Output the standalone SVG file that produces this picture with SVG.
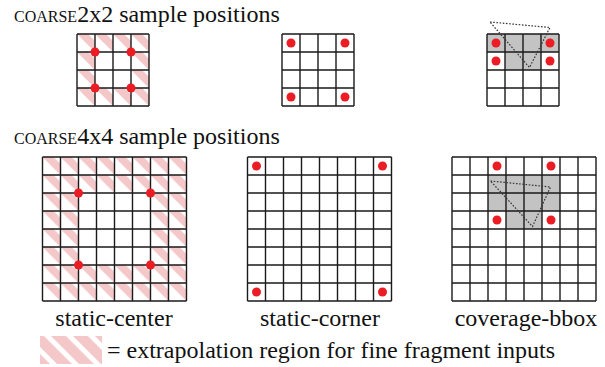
<svg xmlns="http://www.w3.org/2000/svg" width="605" height="367" viewBox="0 0 605 367">
<style>
.grid{fill:none;stroke:#1a1a1a;stroke-width:1.4}
.dot{fill:#ec1c24}
.gray{fill:#c3c3c3}
.tri{fill:none;stroke:#333;stroke-width:1.2;stroke-dasharray:1.6 1.6}
.t{font-family:'Liberation Serif','Times New Roman',serif;fill:#111;font-size:24px}
.sc{font-size:16px}
.lbl{text-anchor:middle}
</style>
<defs>
<pattern id="pA" patternUnits="userSpaceOnUse" x="77" y="34" width="18" height="18">
<polygon points="0,0 11,0 18,7 18,18" fill="#f4c7c9"/>
</pattern>
<pattern id="pB" patternUnits="userSpaceOnUse" x="42.5" y="157" width="18" height="18">
<polygon points="0,0 11,0 18,7 18,18" fill="#f4c7c9"/>
</pattern>
<pattern id="pL" patternUnits="userSpaceOnUse" width="15.5" height="15.5" patternTransform="rotate(-45)">
<rect x="0" y="0" width="10.5" height="15.5" fill="#f4c7c9"/>
</pattern>
</defs>

<g id="heading-2x2"><text class="t" x="14" y="22"><tspan class="sc">COARSE</tspan>2x2 sample positions</text></g>

<g id="c2-static-center">
<path d="M77,34h72v72h-72z M95,52v36h36v-36z" fill="url(#pA)"/>
<path class="grid" d="M77,34V106M95,34V106M113,34V106M131,34V106M149,34V106M77,34H149M77,52H149M77,70H149M77,88H149M77,106H149"/>
<circle class="dot" cx="95" cy="52" r="4.5"/><circle class="dot" cx="131" cy="52" r="4.5"/>
<circle class="dot" cx="95" cy="88" r="4.5"/><circle class="dot" cx="131" cy="88" r="4.5"/>
</g>

<g id="c2-static-corner">
<path class="grid" d="M282,34V106M300,34V106M318,34V106M336,34V106M354,34V106M282,34H354M282,52H354M282,70H354M282,88H354M282,106H354"/>
<circle class="dot" cx="291" cy="43" r="4.5"/><circle class="dot" cx="345" cy="43" r="4.5"/>
<circle class="dot" cx="291" cy="97" r="4.5"/><circle class="dot" cx="345" cy="97" r="4.5"/>
</g>

<g id="c2-coverage-bbox">
<rect class="gray" x="487" y="34" width="72" height="18"/>
<rect class="gray" x="505" y="52" width="36" height="18"/>
<path class="grid" d="M487,34V106M505,34V106M523,34V106M541,34V106M559,34V106M487,34H559M487,52H559M487,70H559M487,88H559M487,106H559"/>
<polygon class="tri" points="490,22 550,27.5 529.5,67.5"/>
<circle class="dot" cx="496" cy="43" r="4.5"/><circle class="dot" cx="550" cy="43" r="4.5"/>
<circle class="dot" cx="496" cy="61" r="4.5"/><circle class="dot" cx="550" cy="61" r="4.5"/>
</g>

<g id="heading-4x4"><text class="t" x="14" y="144"><tspan class="sc">COARSE</tspan>4x4 sample positions</text></g>

<g id="c4-static-center">
<path d="M42.5,157h144v144h-144z M78.5,193v72h72v-72z" fill="url(#pB)"/>
<path class="grid" d="M42.5,157V301M60.5,157V301M78.5,157V301M96.5,157V301M114.5,157V301M132.5,157V301M150.5,157V301M168.5,157V301M186.5,157V301M42.5,157H186.5M42.5,175H186.5M42.5,193H186.5M42.5,211H186.5M42.5,229H186.5M42.5,247H186.5M42.5,265H186.5M42.5,283H186.5M42.5,301H186.5"/>
<circle class="dot" cx="78.5" cy="193" r="4.5"/><circle class="dot" cx="150.5" cy="193" r="4.5"/>
<circle class="dot" cx="78.5" cy="265" r="4.5"/><circle class="dot" cx="150.5" cy="265" r="4.5"/>
<text class="t lbl" x="114" y="326">static-center</text>
</g>

<g id="c4-static-corner">
<path class="grid" d="M247.5,157V301M265.5,157V301M283.5,157V301M301.5,157V301M319.5,157V301M337.5,157V301M355.5,157V301M373.5,157V301M391.5,157V301M247.5,157H391.5M247.5,175H391.5M247.5,193H391.5M247.5,211H391.5M247.5,229H391.5M247.5,247H391.5M247.5,265H391.5M247.5,283H391.5M247.5,301H391.5"/>
<circle class="dot" cx="256.5" cy="166" r="4.5"/><circle class="dot" cx="382.5" cy="166" r="4.5"/>
<circle class="dot" cx="256.5" cy="292" r="4.5"/><circle class="dot" cx="382.5" cy="292" r="4.5"/>
<text class="t lbl" x="320" y="326">static-corner</text>
</g>

<g id="c4-coverage-bbox">
<rect class="gray" x="488" y="175" width="72" height="36"/>
<rect class="gray" x="506" y="211" width="36" height="18"/>
<path class="grid" d="M452,157V301M470,157V301M488,157V301M506,157V301M524,157V301M542,157V301M560,157V301M578,157V301M596,157V301M452,157H596M452,175H596M452,193H596M452,211H596M452,229H596M452,247H596M452,265H596M452,283H596M452,301H596"/>
<polygon class="tri" points="490.5,181 550.5,187 532.5,226.5"/>
<circle class="dot" cx="497" cy="166" r="4.5"/><circle class="dot" cx="551" cy="166" r="4.5"/>
<circle class="dot" cx="497" cy="220" r="4.5"/><circle class="dot" cx="551" cy="220" r="4.5"/>
<text class="t lbl" x="526" y="326">coverage-bbox</text>
</g>

<g id="legend">
<rect x="40" y="336" width="62" height="28" fill="url(#pL)"/>
<text class="t" x="107" y="358">= extrapolation region for fine fragment inputs</text>
</g>
</svg>
